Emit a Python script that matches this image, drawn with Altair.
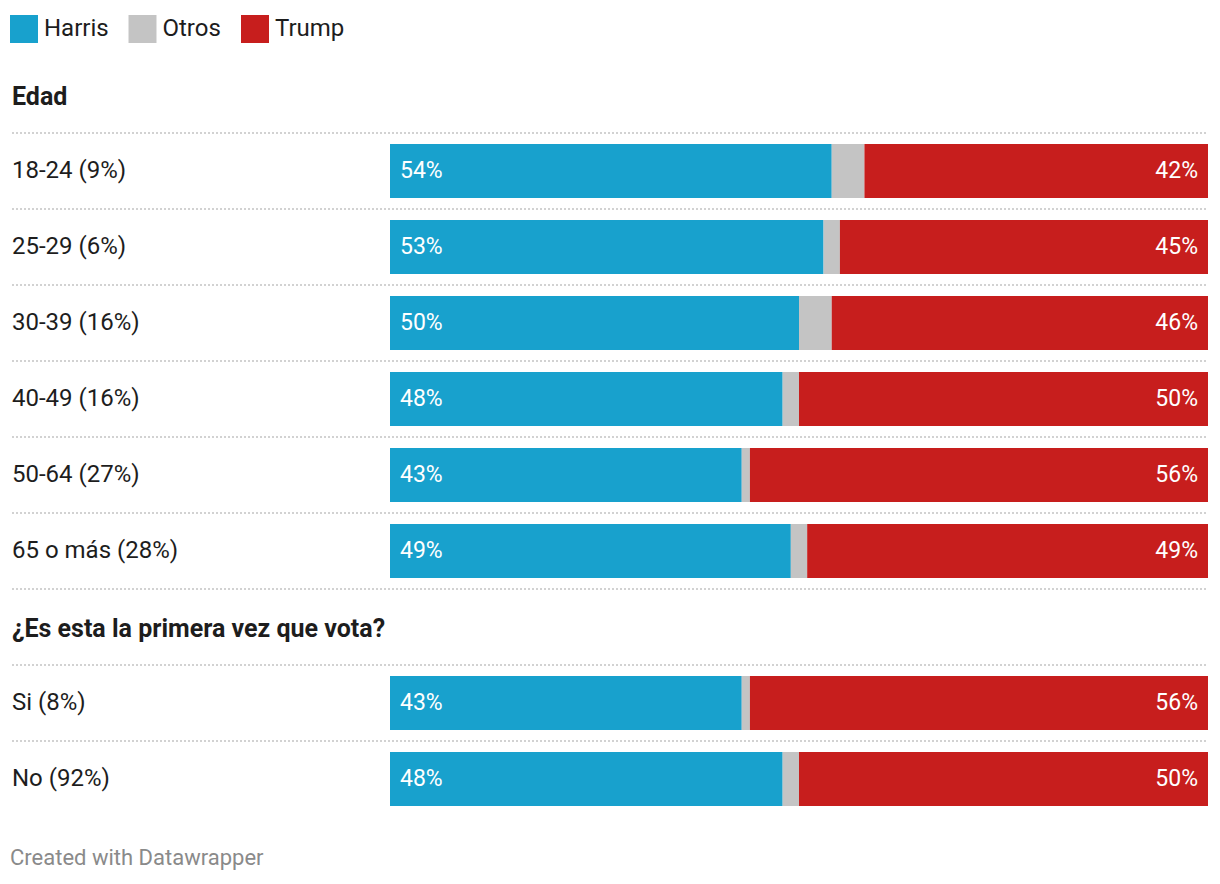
import altair as alt
import pandas as pd

# ---- data ----
series = ["Harris", "Otros", "Trump"]
series_colors = ["#18a1cd", "#c4c4c4", "#c71e1d"]

groups = ["Edad", "¿Es esta la primera vez que vota?"]
categories = ["18-24 (9%)", "25-29 (6%)", "30-39 (16%)", "40-49 (16%)",
              "50-64 (27%)", "65 o más (28%)", "Si (8%)", "No (92%)"]
category_group = [0, 0, 0, 0, 0, 0, 1, 1]
harris = [54, 53, 50, 48, 43, 49, 43, 48]
otros = [4, 2, 4, 2, 1, 2, 1, 2]
trump = [42, 45, 46, 50, 56, 49, 56, 50]
footer_text = "Created with Datawrapper"

# ---- build tables (slot = row position, headers take a slot) ----
header_rows, cat_rows, rule_rows = [], [], []
slot = 0
for g, gname in enumerate(groups):
    if g > 0:
        rule_rows.append({"slot": slot})
    header_rows.append({"label": gname, "slot": slot})
    slot += 1
    for i, c in enumerate(categories):
        if category_group[i] != g:
            continue
        rule_rows.append({"slot": slot})
        cat_rows.append({"category": c, "slot": slot, "i": i})
        slot += 1
n_slots = slot

bar_rows = []
for r in cat_rows:
    i = r["i"]
    for k, (s, v) in enumerate(zip(series, [harris[i], otros[i], trump[i]])):
        bar_rows.append({"category": r["category"], "slot": r["slot"],
                         "series": s, "value": v, "order": k})

bars_df = pd.DataFrame(bar_rows)
cats_df = pd.DataFrame(cat_rows)
heads_df = pd.DataFrame(header_rows)
rules_df = pd.DataFrame(rule_rows)

FONT = "Roboto"
TEXT = "#1d1d1d"

xscale = alt.Scale(domain=[0, 100], range=[382, 1200], nice=False, zero=False)
yscale = alt.Scale(domain=[0, n_slots], range=[49, 49 + 76 * n_slots], nice=False, zero=False)

stacked = alt.Chart(bars_df).transform_stack(
    stack="value", as_=["x0", "x1"], groupby=["category"],
    sort=[alt.SortField("order", order="ascending")]
).transform_calculate(
    ytop="datum.slot + 0.145", ybot="datum.slot + 0.855", ymid="datum.slot + 0.5",
    lbl="datum.value + '%'"
)

bars = stacked.mark_rect().encode(
    x=alt.X("x0:Q", scale=xscale, axis=None),
    x2="x1:Q",
    y=alt.Y("ytop:Q", scale=yscale, axis=None),
    y2="ybot:Q",
    color=alt.Color("series:N",
                    scale=alt.Scale(domain=series, range=series_colors),
                    legend=alt.Legend(orient="none", legendX=2, legendY=7,
                                      direction="horizontal", title=None,
                                      symbolType="square", symbolSize=784,
                                      symbolStrokeWidth=0, symbolOpacity=1,
                                      labelFont=FONT, labelFontSize=24,
                                      labelColor=TEXT, labelOffset=6,
                                      columnPadding=19.5, padding=0)),
)

harris_lbl = stacked.transform_filter("datum.series == 'Harris'").mark_text(
    align="left", baseline="middle", dx=10, font=FONT, fontSize=23,
    color="white").encode(
    x=alt.X("x0:Q", scale=xscale, axis=None),
    y=alt.Y("ymid:Q", scale=yscale, axis=None),
    text="lbl:N")

trump_lbl = stacked.transform_filter("datum.series == 'Trump'").mark_text(
    align="right", baseline="middle", dx=-10, font=FONT, fontSize=23,
    color="white").encode(
    x=alt.X("x1:Q", scale=xscale, axis=None),
    y=alt.Y("ymid:Q", scale=yscale, axis=None),
    text="lbl:N")

row_lbl = alt.Chart(cats_df).transform_calculate(ymid="datum.slot + 0.5").mark_text(
    align="left", baseline="middle", font=FONT, fontSize=24, color=TEXT).encode(
    x=alt.value(4),
    y=alt.Y("ymid:Q", scale=yscale, axis=None),
    text="category:N")

head_lbl = alt.Chart(heads_df).transform_calculate(ymid="datum.slot + 0.5").mark_text(
    align="left", baseline="middle", font=FONT, fontSize=25, fontWeight="bold",
    dy=2, color=TEXT).encode(
    x=alt.value(4),
    y=alt.Y("ymid:Q", scale=yscale, axis=None),
    text="label:N")

rules = alt.Chart(rules_df).mark_rule(
    color="#d2d2d2", strokeWidth=2, strokeDash=[2, 2]).encode(
    x=alt.value(4), x2=alt.value(1200),
    y=alt.Y("slot:Q", scale=yscale, axis=None))

footer = alt.Chart(pd.DataFrame({"t": [footer_text]})).mark_text(
    align="left", baseline="middle", font=FONT, fontSize=22, color="#8a8a8a").encode(
    x=alt.value(2), y=alt.value(850), text="t:N")

chart = alt.layer(rules, bars, harris_lbl, trump_lbl, row_lbl, head_lbl, footer).properties(
    width=1204, height=868, padding=0,
    autosize=alt.AutoSizeParams(type="none"),
).configure_view(stroke=None)

chart.save("out.html", embed_options={"renderer": "svg", "actions": False})
